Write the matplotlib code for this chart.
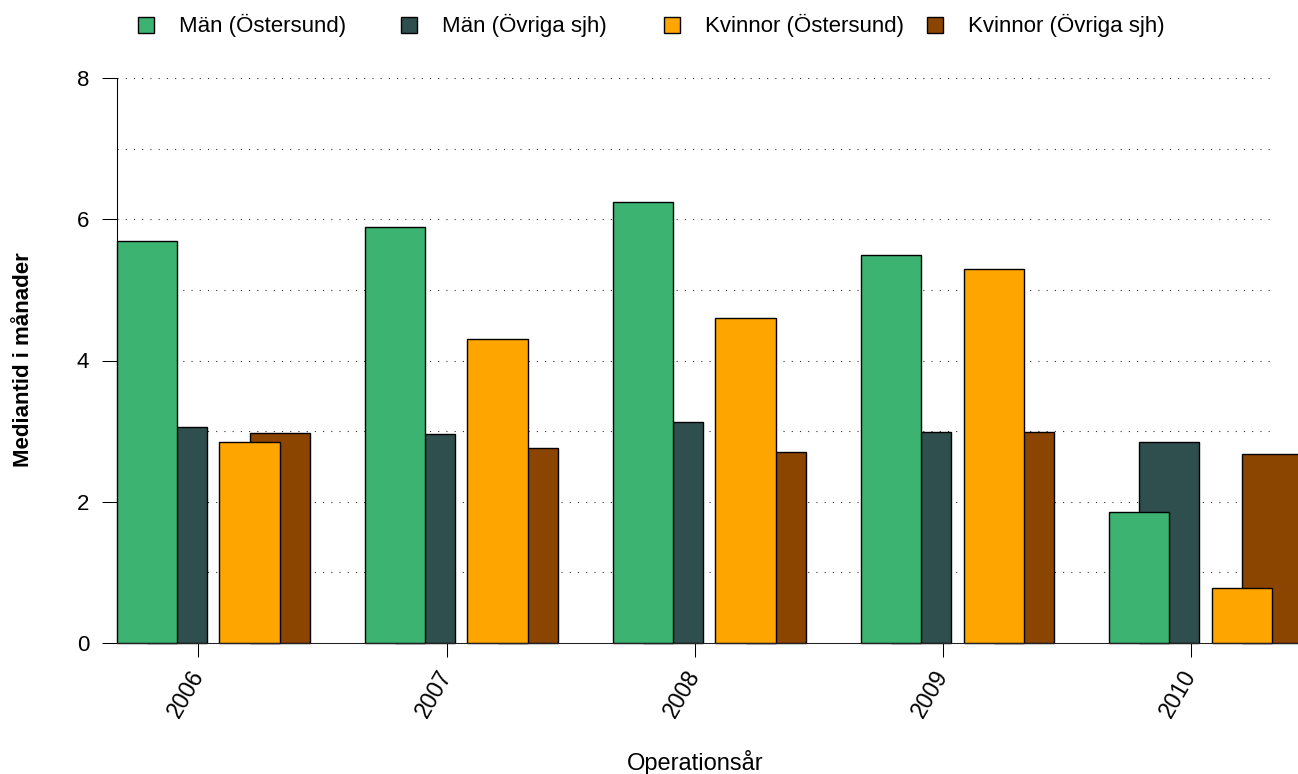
import matplotlib
matplotlib.use('Agg')
import matplotlib.pyplot as plt
from matplotlib.patches import Rectangle

plt.rcParams['font.family'] = ['Liberation Sans', 'DejaVu Sans']

# ---- data ----
years = ['2006', '2007', '2008', '2009', '2010']
man_ostersund = [5.69, 5.89, 6.25, 5.50, 1.86]
man_ovriga = [3.06, 2.96, 3.13, 2.99, 2.84]
kvinnor_ostersund = [2.84, 4.31, 4.60, 5.30, 0.78]
kvinnor_ovriga = [2.97, 2.76, 2.71, 2.99, 2.67]
series_labels = ['Män (Östersund)', 'Män (Övriga sjh)',
                 'Kvinnor (Östersund)', 'Kvinnor (Övriga sjh)']
colors = ['#3CB371', '#2F4F4F', '#FFA500', '#8B4500']
y_ticks = [0, 2, 4, 6, 8]
grid_levels = [1, 2, 3, 4, 5, 6, 7, 8]
x_label = 'Operationsår'
y_label = 'Mediantid i månader'

# ---- layout ----
W, H = 1298, 774
fig = plt.figure(figsize=(W / 100, H / 100), dpi=100)
ax = fig.add_axes([117 / W, 131 / H, 1158 / W, 565 / H])
unit_px = 60.5
xmax = 1158 / unit_px
group_step = 4.1
starts = [i * group_step - 0.008 for i in range(len(years))]
ax.set_xlim(0, xmax)
ax.set_ylim(0, 8)

# grid
ax.hlines(grid_levels, 0, xmax, colors='#333333', linewidth=0.8,
          linestyles=(0, (1, 6.4)), zorder=1)

bar_kw = dict(width=1.0, align='edge', edgecolor='black', linewidth=1.0, clip_on=False)
ax.bar([s + 0.5 for s in starts], man_ovriga, color=colors[1], zorder=2, **bar_kw)
ax.bar(starts, man_ostersund, color=colors[0], zorder=3, **bar_kw)
ax.bar([s + 2.2 for s in starts], kvinnor_ovriga, color=colors[3], zorder=2, **bar_kw)
ax.bar([s + 1.7 for s in starts], kvinnor_ostersund, color=colors[2], zorder=3, **bar_kw)

# zero line extending to the edge
ax.plot([0, xmax + 2], [0, 0], color='#222222', linewidth=0.75, clip_on=False, zorder=4)

for side in ['top', 'right', 'bottom']:
    ax.spines[side].set_visible(False)
ax.spines['left'].set_bounds(0, 8)
ax.spines['left'].set_linewidth(0.75)

ax.set_yticks(y_ticks)
ax.set_yticklabels([str(t) for t in y_ticks])
ax.tick_params(axis='y', length=10.5, width=0.75, pad=9.5, labelsize=16)

ax.set_xticks([s + 1.355 for s in starts])
ax.set_xticklabels(years, rotation=60, ha='right', va='center',
                   rotation_mode='anchor', fontsize=16.5)
ax.tick_params(axis='x', length=10, width=0.75, pad=10.8)

fig.text(24 / W, 1 - 360 / H, y_label, rotation=90, fontweight='bold',
         fontsize=16, ha='center', va='center')
fig.text(695 / W, 1 - 770 / H, x_label, ha='center', va='baseline', fontsize=17)

# legend
leg_cx = [146, 409, 672, 935]
for cx, lab, col in zip(leg_cx, series_labels, colors):
    fig.patches.append(Rectangle(((cx - 8) / W, 1 - (24.5 + 8) / H), 16 / W, 16 / H,
                                 transform=fig.transFigure, facecolor=col,
                                 edgecolor='black', linewidth=1.0))
    fig.text((cx + 33) / W, 1 - 32 / H, lab, ha='left', va='baseline', fontsize=16)

fig.savefig('out.png', dpi=100)
